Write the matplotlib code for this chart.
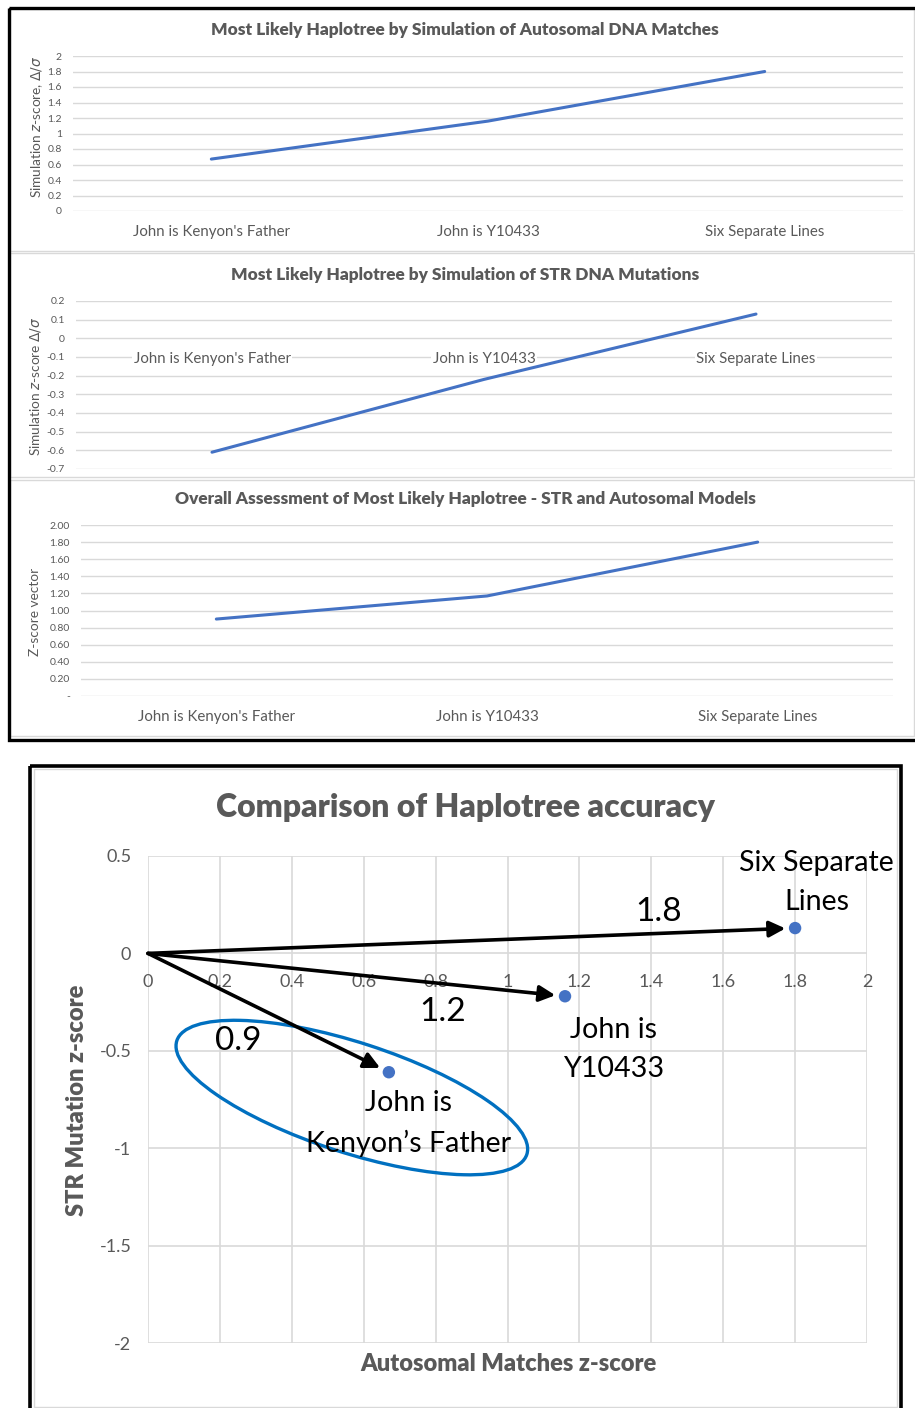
import matplotlib
matplotlib.use("Agg")
import matplotlib.pyplot as plt
from matplotlib.patches import Rectangle, Ellipse
from matplotlib.transforms import IdentityTransform, ScaledTranslation
import numpy as np

plt.rcParams['font.family'] = ['Lato', 'DejaVu Sans']
plt.rcParams['mathtext.fontset'] = 'dejavusans'

# === Data ===
categories = ["John is Kenyon's Father", "John is Y10433", "Six Separate Lines"]
autosomal_z = [0.67, 1.16, 1.80]    # simulation of autosomal DNA matches
str_z = [-0.61, -0.22, 0.13]        # simulation of STR DNA mutations
overall_z = [0.90, 1.17, 1.80]      # combined z-score vector

scatter_labels = ["John is\nKenyon\u2019s Father", "John is\nY10433", "Six Separate\nLines"]
vector_labels = ["0.9", "1.2", "1.8"]

# === Layout helpers (pixel coordinates, origin top-left) ===
W, H = 915, 1408
GRAY = "#595959"
GRID = "#D9D9D9"
BLUE = "#4472C4"
BOLD = "heavy"


def rect(l, t, r, b):
    return [l / W, 1 - b / H, (r - l) / W, (b - t) / H]


def fx(x):
    return x / W


def fy(y):
    return 1 - y / H


fig = plt.figure(figsize=(W / 100, H / 100), dpi=100)

# background frames
bg = fig.add_axes([0, 0, 1, 1], zorder=-10)
bg.set_xlim(0, W)
bg.set_ylim(H, 0)
bg.axis("off")
for (l, t, r, b) in [(10, 9, 914, 251), (10, 253, 914, 477), (10, 480, 914, 736),
                     (34, 769, 897, 1407)]:
    bg.add_patch(Rectangle((l, t), r - l, b - t, fill=False, ec=GRID, lw=1))
bg.add_patch(Rectangle((8.5, 7.5), 920, 732, fill=False, ec="black", lw=2.4))
bg.add_patch(Rectangle((30, 765.5), 870.5, 660, fill=False, ec="black", lw=2.6))


# === Top three line charts ===
def line_chart(box, values, ylim, step, fmt, title, title_y, ylabel, ylabel_xy,
               label_bg=False):
    ax = fig.add_axes(rect(*box))
    ax.set_facecolor("none")
    x = np.arange(len(categories))
    ax.plot(x, values, color=BLUE, lw=2.2, solid_capstyle="round", zorder=3)
    ax.set_xlim(-0.5, len(categories) - 0.5)
    ax.set_ylim(*ylim)
    ticks = np.round(np.arange(ylim[0], ylim[1] + step / 2, step), 2) + 0.0
    ax.set_yticks(ticks)
    ax.set_yticklabels([fmt(t) for t in ticks])
    ax.set_xticks(x)
    ax.set_xticklabels(categories)
    ax.grid(axis="y", color=GRID, lw=1)
    ax.set_axisbelow(True)
    for s in ax.spines.values():
        s.set_visible(False)
    ax.spines["bottom"].set_position(("data", 0))
    ax.tick_params(axis="y", length=0, pad=8, labelsize=7.5, labelcolor=GRAY)
    ax.tick_params(axis="x", length=0, pad=10, labelsize=10.8, labelcolor=GRAY)
    if label_bg:
        # category labels sit inside the plot here, keep the grid behind them
        ax.xaxis.set_zorder(2)
        for lab in ax.get_xticklabels():
            lab.set_bbox(dict(facecolor="white", edgecolor="none", pad=1))
    fig.text(fx(465), fy(title_y), title, ha="center", va="center",
             fontsize=12.4, fontweight=BOLD, color=GRAY)
    fig.text(fx(ylabel_xy[0]), fy(ylabel_xy[1]), ylabel, rotation=90,
             ha="center", va="center", fontsize=9.8, color=GRAY)
    return ax


line_chart((73, 56, 903, 211), autosomal_z, (0, 2), 0.2, lambda v: f"{v:g}",
           "Most Likely Haplotree by Simulation of Autosomal DNA Matches", 30,
           r"Simulation $z$-score, $\mathit{\Delta}/\sigma$", (37, 127))
line_chart((76, 301, 892, 469), str_z, (-0.7, 0.2), 0.1, lambda v: f"{v:g}",
           "Most Likely Haplotree by Simulation of STR DNA Mutations", 275,
           r"Simulation $z$-score $\mathit{\Delta}/\sigma$", (36, 386), label_bg=True)
line_chart((81, 525, 893, 696), overall_z, (0, 2), 0.2,
           lambda v: "-" if v == 0 else f"{v:.2f}",
           "Overall Assessment of Most Likely Haplotree - STR and Autosomal Models", 499,
           "Z-score vector", (35, 612))

# === Bottom scatter chart ===
ax = fig.add_axes(rect(148, 856, 867, 1343))
ax.set_facecolor("none")
ax.set_xlim(0, 2)
ax.set_ylim(-2, 0.5)
xt = np.round(np.arange(0, 2.01, 0.2), 1)
yt = np.arange(-2, 0.51, 0.5)
ax.set_xticks(xt)
ax.set_xticklabels([f"{v:g}" for v in xt])
ax.set_yticks(yt)
ax.set_yticklabels([f"{v:g}" for v in yt])
ax.grid(True, color=GRID, lw=1.2)
ax.set_axisbelow(True)
for s in ax.spines.values():
    s.set_visible(False)
ax.spines["bottom"].set_position(("data", 0))
ax.tick_params(axis="x", length=0, pad=15, labelsize=13, labelcolor=GRAY)
ax.tick_params(axis="y", length=0, pad=12, labelsize=13, labelcolor=GRAY)

ax.scatter(autosomal_z, str_z, s=80, color=BLUE, zorder=5, edgecolors="none")
for xv, yv in zip(autosomal_z, str_z):
    ax.annotate("", xy=(xv, yv), xytext=(0, 0),
                arrowprops=dict(arrowstyle="-|>", color="black", lw=2.6,
                                mutation_scale=24, shrinkA=0, shrinkB=7),
                zorder=4)

# vector magnitude labels
vec_label_pos = [(0.25, -0.45), (0.82, -0.30), (1.42, 0.215)]
for txt, (lx, ly) in zip(vector_labels, vec_label_pos):
    ax.text(lx, ly, txt, ha="center", va="center", fontsize=24, color="black")

# point labels
pt_label_pos = [(0.726, -0.872), (1.296, -0.495), (1.86, 0.362)]
for txt, (lx, ly) in zip(scatter_labels, pt_label_pos):
    ax.text(lx, ly, txt, ha="center", va="center", fontsize=20.6,
            color="black", linespacing=1.62, zorder=6)

# highlight ellipse around the first hypothesis (size in pixels)
ell_center = (0.567, -0.74)
ell = Ellipse((0, 0), width=368, height=110, angle=-18, fill=False,
              ec="#0070C0", lw=2.4, zorder=3,
              transform=IdentityTransform() + ScaledTranslation(*ell_center, ax.transData))
ax.add_artist(ell)

fig.text(fx(465), fy(808), "Comparison of Haplotree accuracy", ha="center", va="center",
         fontsize=23, fontweight=BOLD, color=GRAY)
fig.text(fx(508), fy(1364), "Autosomal Matches z-score", ha="center", va="center",
         fontsize=17, fontweight=BOLD, color=GRAY)
fig.text(fx(77), fy(1100), "STR Mutation z-score", ha="center", va="center",
         rotation=90, fontsize=17, fontweight=BOLD, color=GRAY)

fig.savefig("out.png", dpi=100)
